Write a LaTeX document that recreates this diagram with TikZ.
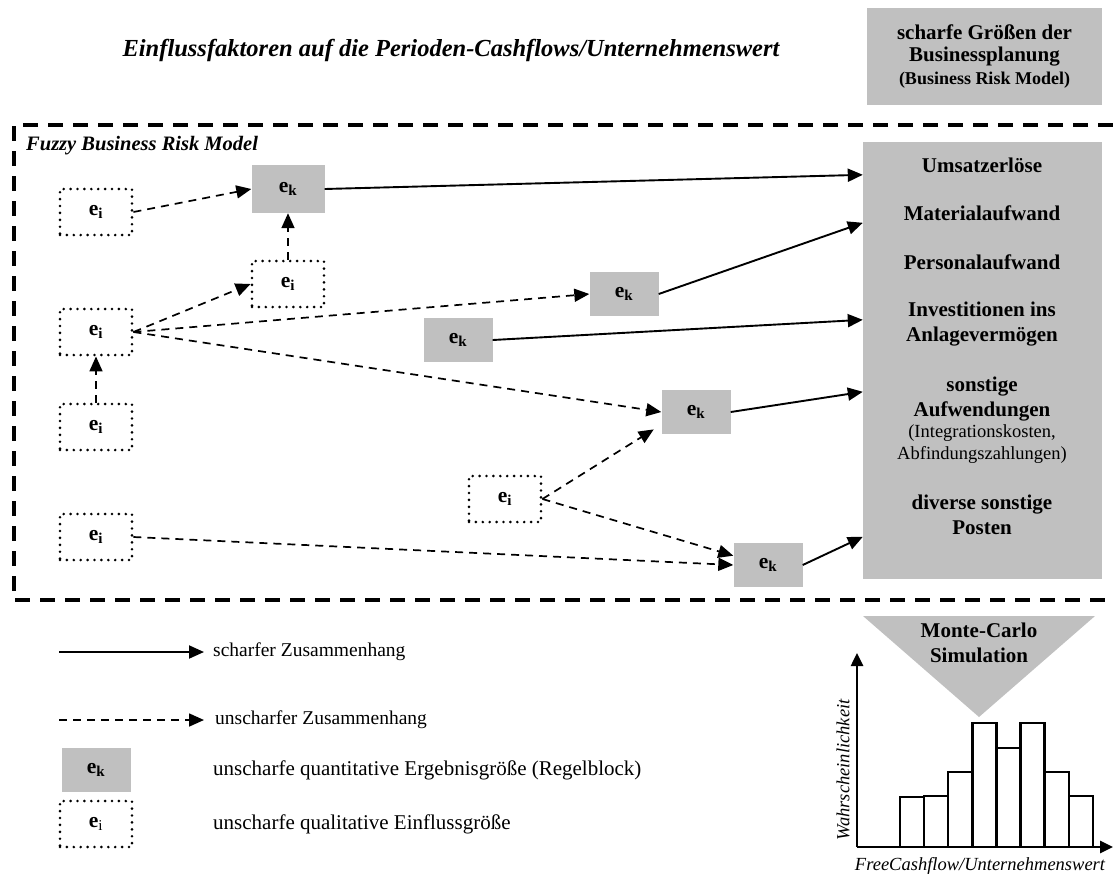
\documentclass[tikz,border=0pt]{standalone}
\usepackage{fontspec}
\setmainfont{Liberation Serif}
\usetikzlibrary{arrows.meta,positioning}
\definecolor{boxgray}{RGB}{192,192,192}
\newcommand{\eklabel}{e\textsubscript{k}}
\newcommand{\eilabel}{e\textsubscript{i}}

\begin{document}
\begin{tikzpicture}[x=1pt,y=-1pt,
  ek/.style={fill=boxgray,inner sep=0pt,minimum width=69pt,minimum height=44pt,font=\fontsize{21.5}{24}\selectfont\bfseries},
  ei/.style={draw,line width=2.9pt,dash pattern=on 0pt off 6.9pt,line cap=round,inner sep=0pt,minimum width=72pt,minimum height=46pt,font=\fontsize{21.5}{24}\selectfont\bfseries},
  crisp/.style={line width=1.9pt,-{Triangle[length=15pt,width=13pt]}},
  fuzzy/.style={line width=1.7pt,dash pattern=on 8pt off 6pt,-{Triangle[length=15pt,width=13pt]}},
  frame/.style={line width=3.2pt,dash pattern=on 15pt off 10pt},
  item/.style={align=center,inner sep=0pt,font=\fontsize{21}{25}\selectfont\bfseries},
  note/.style={anchor=west,inner sep=0pt,font=\fontsize{19.5}{22}\selectfont},
  axis/.style={line width=2.6pt,-{Triangle[length=13pt,width=12pt]}},
  bar/.style={draw,fill=white,line width=2.4pt}
]
  \useasboundingbox (0,0) rectangle (1113,873);

  \node[font=\fontsize{24.5}{28}\selectfont\bfseries\itshape] (title) at (451,50)
    {Einflussfaktoren auf die Perioden-Cashflows/Unternehmenswert};
  \node[fill=boxgray,minimum width=235pt,minimum height=97pt,inner sep=0pt,align=center,
        font=\fontsize{21}{22.5}\selectfont\bfseries] (crispbox) at (984.5,56.5)
    {scharfe Größen der\\Businessplanung\\{\fontsize{18}{22.5}\selectfont (Business Risk Model)}};

  \draw[frame] (1113,125) -- (14,125) -- (14,600) -- (1113,600);
  \node[anchor=west,inner sep=0pt,font=\fontsize{20.5}{24}\selectfont\bfseries\itshape] (fbrm) at (26,146)
    {Fuzzy Business Risk Model};

  \node[fill=boxgray,minimum width=239pt,minimum height=437pt,inner sep=0pt] (plan) at (982.5,360.5) {};
  \node[item] (umsatz)   at (982,165)   {Umsatzerlöse};
  \node[item] (material) at (982,213)   {Materialaufwand};
  \node[item] (personal) at (982,262)   {Personalaufwand};
  \node[item] (invest)   at (982,324.5) {Investitionen ins\\Anlagevermögen};
  \node[item] (sonstige) at (982,399.5) {sonstige\\Aufwendungen};
  \node[item,font=\fontsize{18.5}{22}\selectfont] (kosten) at (982,444) {(Integrationskosten,\\Abfindungszahlungen)};
  \node[item] (diverse)  at (982,515)   {diverse sonstige\\Posten};

  \node[ek,minimum width=73pt,minimum height=48pt] (ek1) at (288,189) {\eklabel};
  \node[ek] (ek2) at (624,294) {\eklabel};
  \node[ek] (ek3) at (458,340) {\eklabel};
  \node[ek] (ek4) at (696,412) {\eklabel};
  \node[ek] (ek5) at (768,565) {\eklabel};

  \node[ei] (ei1) at (96,212)  {\eilabel};
  \node[ei] (ei2) at (288,284) {\eilabel};
  \node[ei] (ei3) at (96,332)  {\eilabel};
  \node[ei] (ei4) at (96,427)  {\eilabel};
  \node[ei] (ei5) at (505,499) {\eilabel};
  \node[ei] (ei6) at (96,537)  {\eilabel};

  \draw[fuzzy] (ei1.east) -- (ek1.west);
  \draw[fuzzy] (ei2.north) -- (ek1.south);
  \draw[fuzzy] (ei3.east) -- (ei2.west);
  \draw[fuzzy] (ei3.east) -- (ek2.west);
  \draw[fuzzy] (ei3.east) -- (ek4.west);
  \draw[fuzzy] (ei4.north) -- (ei3.south);
  \draw[fuzzy,shorten >=9pt] (ei5.east) -- (ek4.200);
  \draw[fuzzy] (ei5.east) -- (ek5.165);
  \draw[fuzzy] (ei6.east) -- (ek5.west);

  \draw[crisp] (ek1.east) -- ([yshift=-33pt]plan.north west);
  \draw[crisp] (ek2.east) -- ([yshift=-81pt]plan.north west);
  \draw[crisp] (ek3.east) -- ([yshift=-178pt]plan.north west);
  \draw[crisp] (ek4.east) -- ([yshift=-250pt]plan.north west);
  \draw[crisp] (ek5.east) -- ([yshift=-395pt]plan.north west);

  \coordinate (s0) at (59,652);
  \coordinate (s1) at (204,652);
  \coordinate (f0) at (59,720);
  \coordinate (f1) at (204,720);
  \draw[crisp] (s0) -- (s1);
  \draw[fuzzy] (f0) -- (f1);
  \node[note,right=9pt of s1] (crisptext) {scharfer Zusammenhang};
  \node[note,right=11pt of f1] (fuzzytext) {unscharfer Zusammenhang};
  \node[ek] (ekleg) at (96,770) {\eklabel};
  \node[ei] (eileg) at (96,824) {e\textsubscript{\mdseries i}};
  \node[note,font=\fontsize{21}{24}\selectfont] (ektext) at (213,770) {unscharfe quantitative Ergebnisgröße (Regelblock)};
  \node[note,font=\fontsize{21}{24}\selectfont] (eitext) at (213,824) {unscharfe qualitative Einflussgröße};

  \fill[boxgray] (863,616) -- (1095,616) -- (979,717) -- cycle;
  \node[item] (mc) at (979,642.5) {Monte-Carlo\\Simulation};
  \foreach \top [count=\i from 0] in {797,796,772,723,748,723,772,796}
    \draw[bar] (900+24.1*\i,847) rectangle (924.1+24.1*\i,\top);
  \draw[axis] (857,847) -- (857,653);
  \draw[axis] (857,847) -- (1113,847);
  \node[rotate=90,font=\fontsize{18.5}{20}\selectfont\itshape] (prob) at (843,770) {Wahrscheinlichkeit};
  \node[font=\fontsize{18.5}{20}\selectfont\itshape] (value) at (980,866) {FreeCashflow/Unternehmenswert};
\end{tikzpicture}
\end{document}
